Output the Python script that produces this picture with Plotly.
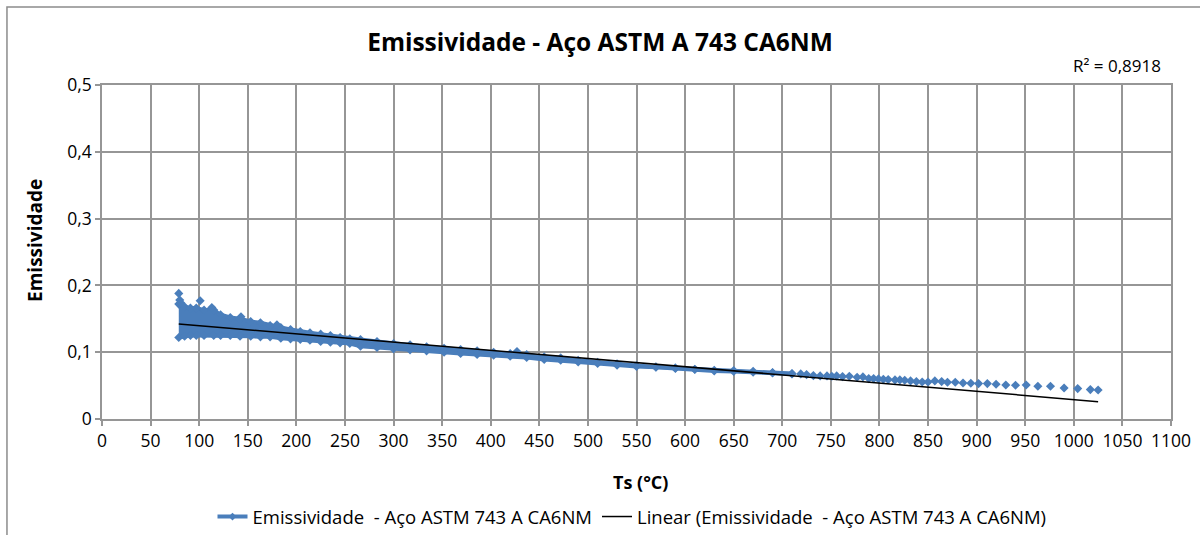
import plotly.graph_objs as go

###############################################################################
# Data
###############################################################################
SERIES = 'Emissividade  - Aço ASTM 743 A CA6NM'
TREND = 'Linear (Emissividade  - Aço ASTM 743 A CA6NM)'
# Dense band of measurements: upper and lower edge of the point cloud ---------
band_x = [79, 85, 91, 97, 105, 115, 122, 132, 142, 153, 163, 173, 184, 194,
          204, 214, 225, 235, 245, 255, 266, 283, 300, 317, 334, 352, 369,
          386, 403, 420, 437, 455, 472, 490, 510, 530, 550, 570, 590, 610,
          630, 650, 670, 690, 710]
band_hi = [0.172, 0.168, 0.166, 0.166, 0.163, 0.163, 0.156, 0.152, 0.150,
           0.146, 0.144, 0.140, 0.137, 0.134, 0.131, 0.129, 0.127, 0.125,
           0.122, 0.120, 0.119, 0.116, 0.113, 0.111, 0.108, 0.106, 0.104,
           0.102, 0.100, 0.098, 0.0965, 0.093, 0.0915, 0.088, 0.085, 0.0825,
           0.080, 0.078, 0.0765, 0.0745, 0.073, 0.0725, 0.0715, 0.0695, 0.068]
band_lo = [0.122, 0.124, 0.125, 0.125, 0.125, 0.125, 0.125, 0.125, 0.124,
           0.124, 0.123, 0.123, 0.121, 0.120, 0.119, 0.118, 0.116, 0.115,
           0.114, 0.113, 0.109, 0.107, 0.105, 0.1035, 0.102, 0.100, 0.098,
           0.0965, 0.0955, 0.094, 0.092, 0.089, 0.088, 0.0855, 0.083, 0.0805,
           0.0785, 0.0775, 0.0755, 0.074, 0.072, 0.071, 0.070, 0.069, 0.0675]
# Isolated points above the band ----------------------------------------------
spike_x = [79, 80, 81, 101, 113, 143, 180, 427]
spike_y = [0.188, 0.178, 0.174, 0.177, 0.167, 0.153, 0.141, 0.101]
# Sparse tail (high temperatures) ---------------------------------------------
tail_x = [719, 725, 732, 739, 746, 751, 756, 762, 769, 777, 783, 789, 794,
          799, 804, 809, 816, 821, 826, 832, 838, 844, 850, 857, 864, 870,
          878, 886, 894, 902, 911, 920, 930, 940, 951, 963, 976, 990, 1004,
          1017, 1025]
tail_y = [0.0675, 0.0665, 0.065, 0.0645, 0.0645, 0.064, 0.0645, 0.0635,
          0.064, 0.0625, 0.063, 0.0605, 0.0605, 0.060, 0.0595, 0.059, 0.0585,
          0.0585, 0.058, 0.057, 0.056, 0.0555, 0.0555, 0.057, 0.056, 0.055,
          0.055, 0.054, 0.0535, 0.053, 0.053, 0.052, 0.051, 0.0505, 0.051,
          0.049, 0.049, 0.0465, 0.0455, 0.044, 0.0435]
# Linear trendline ------------------------------------------------------------
trend_x = [79, 1025]
trend_y = [0.1424, 0.026]
R2_TEXT = 'R² = 0,8918'
# Ticks -----------------------------------------------------------------------
x_ticks = list(range(0, 1101, 50))
y_ticks = [0, 0.1, 0.2, 0.3, 0.4, 0.5]
y_labels = ['0', '0,1', '0,2', '0,3', '0,4', '0,5']
###############################################################################
# Style
###############################################################################
FONT = 'Open Sans'
BLUE = '#4A7EBB'
GRID = '#969696'
MRK = dict(symbol='diamond', size=7, color=BLUE)
###############################################################################
# Figure
###############################################################################
fig = go.Figure()
# band ------------------------------------------------------------------------
fig.add_trace(go.Scatter(
    x=band_x, y=band_lo, mode='markers+lines', marker=MRK,
    line=dict(width=4, color=BLUE), showlegend=False, hoverinfo='skip'
))
fig.add_trace(go.Scatter(
    x=band_x, y=band_hi, mode='markers+lines', marker=MRK,
    line=dict(width=4, color=BLUE), fill='tonexty', fillcolor=BLUE,
    showlegend=False, hoverinfo='skip'
))
fig.add_trace(go.Scatter(
    x=spike_x + tail_x, y=spike_y + tail_y, mode='markers', marker=MRK,
    showlegend=False
))
# legend entries --------------------------------------------------------------
fig.add_trace(go.Scatter(
    x=[None], y=[None], mode='lines+markers', name=SERIES,
    line=dict(color=BLUE, width=4),
    marker=dict(symbol='diamond', size=6, color=BLUE)
))
fig.add_trace(go.Scatter(
    x=trend_x, y=trend_y, mode='lines', name=TREND,
    line=dict(color='black', width=1.5)
))
axis = dict(
    showgrid=True, gridcolor=GRID, gridwidth=1.5,
    showline=True, linecolor=GRID, linewidth=1.5, mirror=True,
    ticks='outside', ticklen=5, tickcolor=GRID, tickwidth=1.5,
    zeroline=False, automargin=False,
    tickfont=dict(family=FONT, size=17.5, color='black')
)
fig.update_layout(
    width=1200, height=535,
    margin=dict(l=102, r=29, t=85, b=116),
    paper_bgcolor='white', plot_bgcolor='white',
    font=dict(family=FONT, color='black'),
    title=dict(
        text='<b>Emissividade - Aço ASTM A 743 CA6NM</b>',
        x=0.5, xref='container', xanchor='center',
        y=1 - 42/535, yanchor='middle',
        font=dict(family=FONT, size=24.5, color='black')
    ),
    xaxis=dict(axis, range=[0, 1100], tickvals=x_ticks),
    yaxis=dict(axis, range=[0, 0.5], tickvals=y_ticks, ticktext=y_labels),
    legend=dict(
        orientation='h', x=632/1200, xref='container', xanchor='center',
        y=1 - 517/535, yref='container', yanchor='middle',
        traceorder='normal',
        font=dict(family=FONT, size=18.5, color='black'),
        bgcolor='rgba(0,0,0,0)'
    ),
    annotations=[
        dict(text=R2_TEXT, xref='paper', yref='paper', x=0.9925, y=1.057,
             xanchor='right', yanchor='middle', showarrow=False,
             font=dict(family=FONT, size=17, color='black')),
        dict(text='<b>Emissividade</b>', xref='paper', yref='paper',
             x=-0.0627, y=0.536, textangle=-90, showarrow=False,
             xanchor='center', yanchor='middle',
             font=dict(family=FONT, size=19, color='black')),
        dict(text='<b>Ts (°C)</b>', xref='paper', yref='paper',
             x=0.504, y=-0.1886, showarrow=False,
             xanchor='center', yanchor='middle',
             font=dict(family=FONT, size=18, color='black')),
    ],
    shapes=[
        dict(type='rect', xref='paper', yref='paper',
             x0=-0.0889, x1=1.0365, y0=-0.377, y1=1.2335,
             line=dict(color='#8c8c8c', width=1.5))
    ]
)
fig.write_html('out.html', config={'displayModeBar': False},
               post_script="document.body.style.margin='0px';")
